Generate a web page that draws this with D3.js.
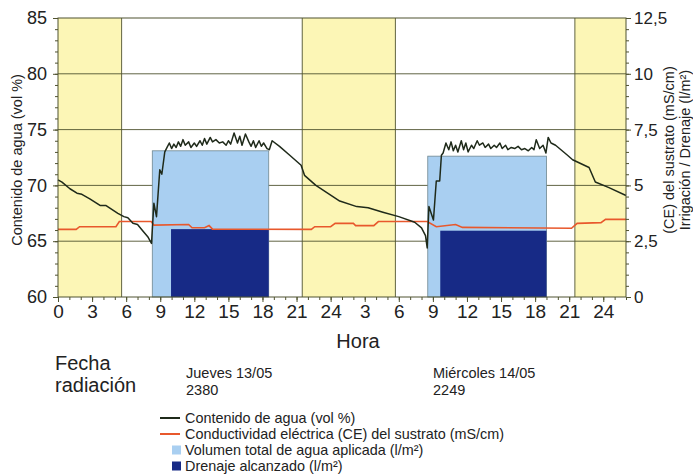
<!DOCTYPE html>
<html>
<head>
<meta charset="utf-8">
<script src="https://cdn.jsdelivr.net/npm/d3@7"></script>
<style>
  body { margin: 0; background: #fff; }
  text { font-family: "Liberation Sans", Arial, sans-serif; fill: #222; }
</style>
</head>
<body>
<div id="chart"></div>
<script>
// night periods (hours from start)
const nightStart = [0, 21.5, 45.5];
const nightEnd = [5.6, 29.7, 50];

// irrigation / drainage blocks (l/m2, right axis)
const irrigStart = [8.3, 32.55];
const irrigEnd = [18.55, 43.0];
const irrigValue = [6.55, 6.31];
const drainStart = [9.95, 33.65];
const drainValue = [3.04, 2.97];

// water content (vol %)
const waterHour = [0, 0.35, 1.05, 1.67, 2.1, 2.8, 3.7, 4.2, 5.27, 5.8, 6.15, 6.6, 7.0, 7.4, 7.9, 8.23,
  8.44, 8.67, 8.96, 9.14, 9.4, 9.6, 9.8, 10.0, 10.2, 10.4, 10.6, 10.8, 11.0, 11.2, 11.5, 11.7, 12.0,
  12.2, 12.5, 12.7, 12.9, 13.1, 13.4, 13.6, 13.9, 14.2, 14.5, 14.8, 15.0, 15.2, 15.5, 15.8, 16.0,
  16.2, 16.5, 16.8, 17.0, 17.2, 17.4, 17.7, 17.9, 18.1, 18.4, 18.6, 18.85, 19.5, 20.4, 21.4, 21.7,
  22.7, 23.6, 24.2, 24.8, 26.3, 27.3, 28.6, 30.0, 31.4, 32.0, 32.35, 32.5,
  32.65, 33.05, 33.2, 33.3, 33.6, 33.75, 33.9, 34.15, 34.4, 34.6, 34.8, 35.0, 35.2, 35.5, 35.7, 35.9,
  36.1, 36.4, 36.6, 36.9, 37.1, 37.4, 37.6, 37.9, 38.1, 38.4, 38.6, 38.9, 39.1, 39.4, 39.6, 39.9,
  40.2, 40.5, 40.8, 41.1, 41.4, 41.7, 41.9, 42.1, 42.4, 42.7, 42.95, 43.15, 43.4, 43.8, 44.85, 45.3,
  46.75, 47.3, 48.5, 50];
const waterValue = [70.5, 70.3, 69.7, 69.3, 69.2, 68.8, 68.2, 68.2, 67.5, 67.2, 67.1, 66.6, 66.5, 66.0, 65.4, 64.8,
  68.4, 67.2, 71.4, 71.0, 73.0, 73.4, 73.8, 73.3, 73.7, 73.4, 73.9, 73.5, 74.1, 73.6, 73.9, 73.4, 73.8,
  73.5, 74.0, 73.6, 74.2, 73.7, 74.3, 73.9, 74.1, 73.8, 73.9, 73.6, 74.0, 73.7, 74.7, 73.8, 74.4,
  73.6, 74.6, 73.9, 73.5, 74.0, 73.4, 74.0, 73.5, 73.8, 73.3, 73.2, 74.0, 73.5, 72.7, 71.8, 70.9,
  70.0, 69.4, 69.0, 68.6, 68.1, 68.0, 67.6, 67.2, 66.7, 66.2, 65.5, 64.4,
  68.1, 66.9, 69.0, 70.4, 70.4, 72.7, 72.9, 73.8, 73.2, 73.9, 73.1, 73.6, 73.0, 74.0, 73.2, 73.8,
  73.0, 73.6, 73.3, 74.0, 73.6, 73.8, 73.4, 73.7, 73.3, 73.6, 73.4, 73.8, 73.3, 73.6, 73.2, 73.4,
  73.3, 73.5, 73.2, 73.3, 73.1, 73.4, 73.2, 74.1, 73.3, 73.6, 72.9, 74.3, 73.8, 73.6, 72.7, 72.3,
  71.6, 70.3, 69.8, 69.1];

// electrical conductivity (mS/cm, right axis)
const ceHour = [0, 1.6, 1.9, 5.1, 5.4, 8.2, 8.45, 11.5, 11.8, 12.9, 13.3, 13.6, 22.3, 22.6, 24.0, 24.4,
  26.0, 26.2, 27.8, 28.2, 32.5, 33.3, 35.0, 35.6, 45.2, 45.7, 47.8, 48.2, 50];
const ceValue = [3.03, 3.03, 3.15, 3.15, 3.38, 3.38, 3.22, 3.25, 3.1, 3.1, 3.2, 3.04, 3.03, 3.15, 3.15, 3.3,
  3.3, 3.2, 3.2, 3.38, 3.38, 3.15, 3.25, 3.12, 3.08, 3.3, 3.33, 3.48, 3.48];

// axes
const xTickHours = [0, 3, 6, 9, 12, 15, 18, 21, 24, 27, 30, 33, 36, 39, 42, 45, 48];
const xTickLabels = ["0", "3", "6", "9", "12", "15", "18", "21", "24", "3", "6", "9", "12", "15", "18", "21", "24"];
const leftTicks = [60, 65, 70, 75, 80, 85];
const rightTicks = [0, 2.5, 5, 7.5, 10, 12.5];
const rightTickLabels = ["0", "2,5", "5", "7,5", "10", "12,5"];

const W = 693, H = 475;
const margin = { top: 18, right: 67, bottom: 178, left: 58 };
const width = W - margin.left - margin.right;
const height = H - margin.top - margin.bottom;

const olive = "#4f5230";

const svg = d3.select("#chart").append("svg")
  .attr("width", W).attr("height", H);
const g = svg.append("g")
  .attr("transform", "translate(" + margin.left + "," + margin.top + ")");

const x = d3.scaleLinear().domain([0, 50]).range([0, width]);
const yL = d3.scaleLinear().domain([60, 85]).range([height, 0]);
const yR = d3.scaleLinear().domain([0, 12.5]).range([height, 0]);

// night bands
g.selectAll(".night").data(nightStart).enter().append("rect")
  .attr("x", (d) => x(d))
  .attr("y", 0)
  .attr("width", (d, i) => x(nightEnd[i]) - x(d))
  .attr("height", height)
  .attr("fill", "#fcf6b6");

// horizontal grid
g.selectAll(".hgrid").data([65, 70, 75, 80]).enter().append("line")
  .attr("x1", 0).attr("x2", width)
  .attr("y1", (d) => yL(d)).attr("y2", (d) => yL(d))
  .attr("stroke", olive).attr("stroke-width", 0.9);

// vertical lines at night edges
const edges = [nightEnd[0], nightStart[1], nightEnd[1], nightStart[2]];
g.selectAll(".vgrid").data(edges).enter().append("line")
  .attr("x1", (d) => x(d)).attr("x2", (d) => x(d))
  .attr("y1", 0).attr("y2", height)
  .attr("stroke", olive).attr("stroke-width", 0.9);

// irrigation
g.selectAll(".irrig").data(irrigStart).enter().append("rect")
  .attr("x", (d) => x(d))
  .attr("y", (d, i) => yR(irrigValue[i]))
  .attr("width", (d, i) => x(irrigEnd[i]) - x(d))
  .attr("height", (d, i) => yR(0) - yR(irrigValue[i]))
  .attr("fill", "#a9cff1")
  .attr("stroke", "#6f8790").attr("stroke-width", 0.8);

// drainage
g.selectAll(".drain").data(drainStart).enter().append("rect")
  .attr("x", (d) => x(d))
  .attr("y", (d, i) => yR(drainValue[i]))
  .attr("width", (d, i) => x(irrigEnd[i]) - x(d))
  .attr("height", (d, i) => yR(0) - yR(drainValue[i]))
  .attr("fill", "#172a86");

// CE line
g.append("path")
  .datum(ceHour.map((h, i) => [h, ceValue[i]]))
  .attr("fill", "none")
  .attr("stroke", "#e8582c")
  .attr("stroke-width", 1.6)
  .attr("d", d3.line().x((d) => x(d[0])).y((d) => yR(d[1])));

// water content line
g.append("path")
  .datum(waterHour.map((h, i) => [h, waterValue[i]]))
  .attr("fill", "none")
  .attr("stroke", "#1f2a1a")
  .attr("stroke-width", 1.5)
  .attr("stroke-linejoin", "round")
  .attr("d", d3.line().x((d) => x(d[0])).y((d) => yL(d[1])));

// frame
g.append("rect")
  .attr("width", width).attr("height", height)
  .attr("fill", "none").attr("stroke", olive).attr("stroke-width", 1);

// axes
function styleAxis(sel, size) {
  sel.select(".domain").remove();
  sel.selectAll("line").attr("stroke", olive);
  sel.selectAll("text").attr("fill", "#222")
    .style("font-family", '"Liberation Sans", Arial, sans-serif')
    .style("font-size", size + "px");
}

const xMinor = g.append("g").attr("transform", "translate(0," + height + ")")
  .call(d3.axisBottom(x).tickValues(d3.range(0, 51, 1)).tickSize(3).tickFormat(""));
styleAxis(xMinor, 19);

const xAxis = g.append("g").attr("transform", "translate(0," + height + ")")
  .call(d3.axisBottom(x).tickValues(xTickHours).tickSize(5).tickPadding(3)
    .tickFormat((d, i) => xTickLabels[i]));
styleAxis(xAxis, 19);

const yMinor = g.append("g")
  .call(d3.axisLeft(yL).tickValues(d3.range(60, 86, 1)).tickSize(3).tickFormat(""));
styleAxis(yMinor, 18);

const yAxis = g.append("g")
  .call(d3.axisLeft(yL).tickValues(leftTicks).tickSize(5).tickPadding(6));
styleAxis(yAxis, 18);

const rMinor = g.append("g").attr("transform", "translate(" + width + ",0)")
  .call(d3.axisRight(yR).tickValues(d3.range(0, 12.6, 0.5)).tickSize(3).tickFormat(""));
styleAxis(rMinor, 17);

const rAxis = g.append("g").attr("transform", "translate(" + width + ",0)")
  .call(d3.axisRight(yR).tickValues(rightTicks).tickSize(5).tickPadding(3)
    .tickFormat((d, i) => rightTickLabels[i]));
styleAxis(rAxis, 17);

// axis titles
svg.append("text")
  .attr("transform", "translate(22,160) rotate(-90)")
  .attr("text-anchor", "middle")
  .style("font-size", "14.5px")
  .text("Contenido de agua (vol %)");

svg.append("text")
  .attr("transform", "translate(674,150) rotate(-90)")
  .attr("text-anchor", "middle")
  .style("font-size", "14.5px")
  .text("(CE) del sustrato (mS/cm)");

svg.append("text")
  .attr("transform", "translate(690,150) rotate(-90)")
  .attr("text-anchor", "middle")
  .style("font-size", "14.5px")
  .text("Irrigación / Drenaje (l/m²)");

svg.append("text")
  .attr("x", 358).attr("y", 348)
  .attr("text-anchor", "middle")
  .style("font-size", "20px")
  .text("Hora");

// date / radiation block
svg.append("text").attr("x", 55).attr("y", 370).style("font-size", "20px").text("Fecha");
svg.append("text").attr("x", 55).attr("y", 392).style("font-size", "20px").text("radiación");

const days = ["Jueves 13/05", "Miércoles 14/05"];
const radiation = ["2380", "2249"];
const dayX = [186, 433];
days.forEach((d, i) => {
  svg.append("text").attr("x", dayX[i]).attr("y", 378).style("font-size", "14.5px").text(d);
  svg.append("text").attr("x", dayX[i]).attr("y", 395).style("font-size", "14.5px").text(radiation[i]);
});

// legend
const legendLabels = [
  "Contenido de agua (vol %)",
  "Conductividad eléctrica (CE) del sustrato (mS/cm)",
  "Volumen total de agua aplicada (l/m²)",
  "Drenaje alcanzado (l/m²)"
];
const legendColors = ["#1f2a1a", "#e8582c", "#a9cff1", "#172a86"];
const legend = svg.append("g").attr("transform", "translate(160,418)");
legendLabels.forEach((t, i) => {
  const row = legend.append("g").attr("transform", "translate(0," + i * 16 + ")");
  if (i < 2) {
    row.append("line").attr("x1", 0).attr("x2", 20).attr("y1", 0).attr("y2", 0)
      .attr("stroke", legendColors[i]).attr("stroke-width", 2);
  } else {
    row.append("rect").attr("x", 12).attr("y", -4.5).attr("width", 9).attr("height", 9)
      .attr("fill", legendColors[i]);
  }
  row.append("text").attr("x", 25).attr("y", 5).style("font-size", "14.4px").text(t);
});
</script>
</body>
</html>
